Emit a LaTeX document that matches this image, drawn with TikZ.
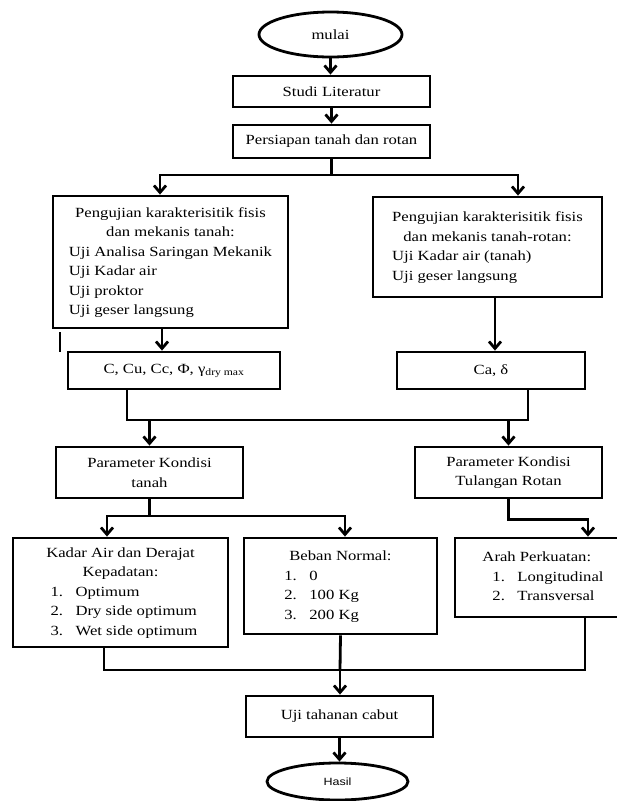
\documentclass[tikz,border=0pt]{standalone}
\usepackage{fontspec}
\setmainfont{Liberation Serif}[FakeStretch=1.19]
\newfontfamily\hasilfont{Liberation Sans}[FakeStretch=1.19]
\usetikzlibrary{shapes.geometric,arrows.meta}
\newcommand\numline[2]{\makebox[25pt][l]{#1}#2}
\begin{document}
\begin{tikzpicture}[x=1pt,y=-1pt,
  txt/.style={font=\fontsize{14}{19.5}\selectfont},
  box/.style={txt,draw,line width=2.8pt,inner sep=0pt,align=center},
  oval/.style={txt,draw,ellipse,line width=2.8pt,inner sep=0pt},
  conn/.style={line width=2.8pt},
  arr/.style={conn,-{Straight Barb[length=7pt,width=12pt]}}]
\useasboundingbox (0,0) rectangle (617,801);
\fill[white] (0,0) rectangle (617,801);
\clip (0,0) rectangle (617,801);

% nodes
\node[oval,minimum width=143pt,minimum height=45pt] (mulai) at (330.5,34.5) {mulai};
\node[box,minimum width=197pt,minimum height=31pt] (studi) at (331.5,91.5) {Studi Literatur};
\node[box,minimum width=197pt,minimum height=33pt] (persiapan) at (331.5,141.5) {Persiapan tanah dan rotan};

\node[box,minimum width=235pt,minimum height=132pt] (ujiA) at (170.5,262) {%
\begin{tabular}{@{}l@{}}
\multicolumn{1}{@{}c@{}}{Pengujian karakterisitik fisis}\\
\multicolumn{1}{@{}c@{}}{dan mekanis tanah:}\\
Uji Analisa Saringan Mekanik\\
Uji Kadar air\\
Uji proktor\\
Uji geser langsung
\end{tabular}};

\node[box,minimum width=229pt,minimum height=100pt] (ujiB) at (487.5,247) {%
\begin{tabular}{@{}l@{}}
\multicolumn{1}{@{}c@{}}{Pengujian karakterisitik fisis}\\
\multicolumn{1}{@{}c@{}}{dan mekanis tanah-rotan:}\\
Uji Kadar air (tanah)\\
Uji geser langsung
\end{tabular}};

\node[box,minimum width=212pt,minimum height=37pt] (cbox) at (174,370.5) {C, Cu, Cc, Φ, γ\textsubscript{dry max}};
\node[box,minimum width=188pt,minimum height=37pt] (cabox) at (491,370.5) {Ca, δ};

\node[box,minimum width=187pt,minimum height=51pt] (ptanah) at (149.5,472.5) {Parameter Kondisi\\tanah};
\node[box,minimum width=187pt,minimum height=51pt] (protan) at (508.5,472.5) {Parameter Kondisi\\Tulangan Rotan};

\node[box,minimum width=215pt,minimum height=109pt] (kadar) at (120.5,592.5) {%
\begin{tabular}{@{}l@{}}
\multicolumn{1}{@{}c@{}}{Kadar Air dan Derajat}\\
\multicolumn{1}{@{}c@{}}{Kepadatan:}\\
\hspace*{7pt}\numline{1.}{Optimum}\\
\hspace*{7pt}\numline{2.}{Dry side optimum}\\
\hspace*{7pt}\numline{3.}{Wet side optimum}
\end{tabular}};

\node[box,minimum width=193pt,minimum height=96pt] (beban) at (340.5,586) {%
\begin{tabular}{@{}l@{}}
\multicolumn{1}{@{}c@{}}{Beban Normal:}\\
\hspace*{-5pt}\numline{1.}{0}\\
\hspace*{-5pt}\numline{2.}{100 Kg}\\
\hspace*{-5pt}\numline{3.}{200 Kg}
\end{tabular}};

\node[box,minimum width=176pt,minimum height=79pt] (arah) at (543,577.5) {%
\begin{tabular}{@{}l@{}}
Arah Perkuatan:\\
\hspace*{10pt}\numline{1.}{Longitudinal}\\
\hspace*{10pt}\numline{2.}{Transversal}
\end{tabular}};

\node[box,minimum width=187pt,minimum height=41pt] (uji) at (339.5,716.5) {Uji tahanan cabut};
\node[oval,minimum width=141pt,minimum height=37pt,font=\hasilfont\fontsize{10.5}{12}\selectfont] (hasil) at (337.5,781.5) {Hasil};

% stray mark
\draw[line width=2.4pt] (60,332) -- (60,352);

% connectors
\draw[arr] (mulai.south) -- (mulai.south |- studi.north);
\draw[arr] (studi.south) -- (persiapan.north);

\coordinate (j1) at (331.5,175);
\draw[conn] (persiapan.south) -- (j1);
\draw[arr] (j1) -| ([xshift=-10.5pt]ujiA.north);
\draw[arr] (j1) -| ([xshift=30.5pt]ujiB.north);

\draw[arr] ([xshift=-8.5pt]ujiA.south) -- ([xshift=-12pt]cbox.north);
\draw[arr] ([xshift=7.5pt]ujiB.south) -- ([xshift=4pt]cabox.north);

\coordinate (m1) at (127,420);
\coordinate (m2) at (528,420);
\draw[conn] ([xshift=-47pt]cbox.south) -- (m1) -- (m2) -- ([xshift=37pt]cabox.south);
\draw[arr] (m1 -| ptanah.north) -- (ptanah.north);
\draw[arr] (m1 -| protan.north) -- (protan.north);

\coordinate (j2) at (149.5,516);
\draw[conn] (ptanah.south) -- (j2);
\draw[arr] (j2) -| ([xshift=-13.5pt]kadar.north);
\draw[arr] (j2) -| ([xshift=4.5pt]beban.north);

\draw[arr] (protan.south) -- ++(0,20) -| ([xshift=45pt]arah.north);

\coordinate (j4) at (340,670);
\draw[conn] ([xshift=-16.5pt]kadar.south) |- (j4);
\draw[conn] ([xshift=42pt]arah.south) |- (j4);
\draw[conn] (beban.south) -- (j4);
\draw[arr] (j4) -- (j4 |- uji.north);
\draw[arr] (uji.south) -- (uji.south |- hasil.north);
\end{tikzpicture}
\end{document}
